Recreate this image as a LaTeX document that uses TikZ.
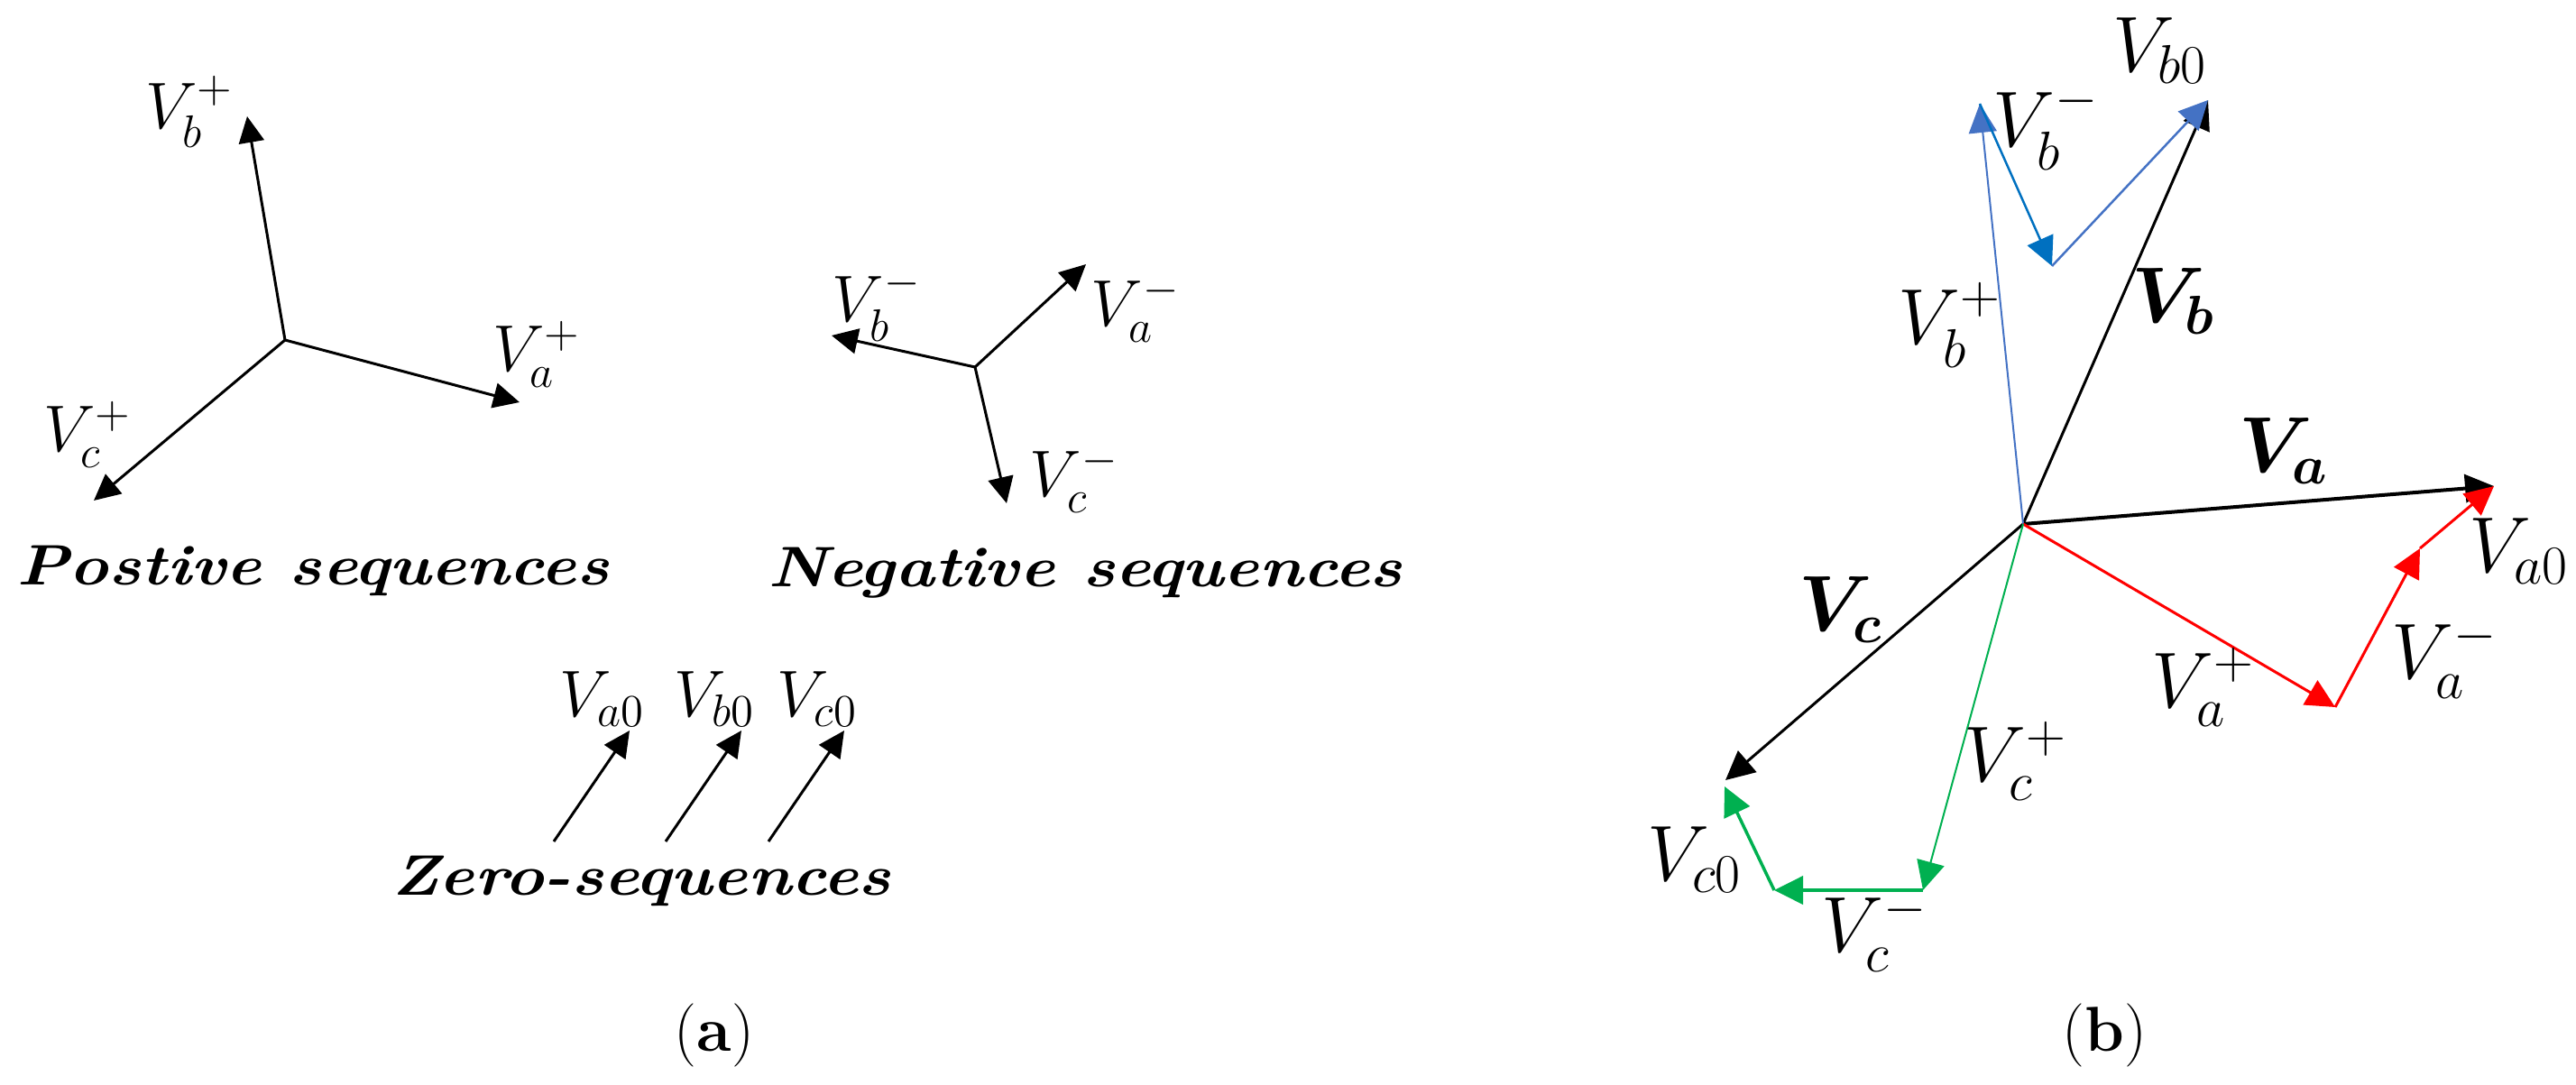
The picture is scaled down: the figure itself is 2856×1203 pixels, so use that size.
\documentclass[tikz,border=0pt]{standalone}
\usepackage{amsmath,bm,graphicx}
\usetikzlibrary{arrows.meta}
\definecolor{phaseblue}{HTML}{4472C4}
\definecolor{negblue}{HTML}{0070C0}
\definecolor{phasered}{HTML}{FF0000}
\definecolor{phasegreen}{HTML}{00B050}
\newcommand{\seqtitle}[1]{\scalebox{1.17}[1]{#1}}

\begin{document}
\begin{tikzpicture}[x=0.1mm,y=-0.1mm,
  vec/.style={line width=0.3mm,-{Triangle[length=2.9mm,width=2.8mm]}},
  rvec/.style={line width=#1,-{Triangle[length=3.2mm,width=3.1mm]}},
  lbl/.style={font=\fontsize{19.5}{22}\selectfont,inner sep=0pt},
  rlbl/.style={font=\fontsize{23.5}{26}\selectfont,inner sep=0pt},
  title/.style={font=\fontsize{18}{20}\selectfont\bfseries\itshape,inner sep=0pt,anchor=base},
  caption/.style={font=\fontsize{20}{24}\selectfont,inner sep=0pt}]
  \useasboundingbox (0,0) rectangle (2856,1203);

  % (a) positive sequences
  \coordinate (P)  at (316,377);
  \coordinate (Pa) at (576,446);
  \coordinate (Pb) at (274,129);
  \coordinate (Pc) at (104,555);
  \draw[vec] (P) -- (Pa);
  \draw[vec] (P) -- (Pb);
  \draw[vec] (P) -- (Pc);
  \node[lbl] (lPa) at (595,393) {$V_a^+$};
  \node[lbl] (lPb) at (210,124) {$V_b^+$};
  \node[lbl] (lPc) at (97,482)  {$V_c^+$};
  \node[title] (tPos) at (347,648) {\seqtitle{Postive sequences}};

  % (a) negative sequences
  \coordinate (N)  at (1081,407);
  \coordinate (Na) at (1204,293);
  \coordinate (Nb) at (922,372);
  \coordinate (Nc) at (1116,558);
  \draw[vec] (N) -- (Na);
  \draw[vec] (N) -- (Nb);
  \draw[vec] (N) -- (Nc);
  \node[lbl] (lNa) at (1259,343) {$V_a^-$};
  \node[lbl] (lNb) at (972,338)  {$V_b^-$};
  \node[lbl] (lNc) at (1191,532) {$V_c^-$};
  \node[title] (tNeg) at (1203,650) {\seqtitle{Negative sequences}};

  % (a) zero sequences
  \foreach \p/\x in {a/614,b/738,c/852} {
    \coordinate (Z\p) at (\x,933);
    \coordinate (Z\p0) at (\x+84,810);
    \draw[vec] (Z\p) -- (Z\p0);
    \node[lbl] (lZ\p) at (\x+54,775) {$V_{\p0}$};
  }
  \node[title] (tZero) at (711,992) {\seqtitle{Zero-sequences}};
  \node[caption] (capa) at (792,1148) {(\textbf{a})};

  % (b) phasor sum
  \coordinate (O)   at (2243,581);
  \coordinate (Va)  at (2765,539);
  \coordinate (Vb)  at (2448,111);
  \coordinate (Vc)  at (1913,865);
  \coordinate (Vap) at (2589,784);
  \coordinate (Vam) at (2683,608);
  \coordinate (Vbp) at (2195,115);
  \coordinate (Vbm) at (2275,295);
  \coordinate (Vcp) at (2132,987);
  \coordinate (Vcm) at (1967,987);
  \coordinate (Vcz) at (1912,872);

  \draw[rvec=0.4mm]  (O) -- (Va);
  \draw[rvec=0.3mm]  (O) -- (Vb);
  \draw[rvec=0.3mm]  (O) -- (Vc);

  \draw[rvec=0.2mm, phaseblue]  (O) -- (Vbp);
  \draw[rvec=0.25mm, negblue]   (Vbp) -- (Vbm);
  \draw[rvec=0.25mm, phaseblue] (Vbm) -- (Vb);

  \draw[rvec=0.3mm, phasered] (O) -- (Vap);
  \draw[rvec=0.3mm, phasered] (Vap) -- (Vam);
  \draw[rvec=0.3mm, phasered] (Vam) -- (Va);

  \draw[rvec=0.2mm, phasegreen]  (O) -- (Vcp);
  \draw[rvec=0.4mm, phasegreen]  (Vcp) -- (Vcm);
  \draw[rvec=0.35mm, phasegreen] (Vcm) -- (Vcz);

  \node[rlbl] (lVa)  at (2532,500) {$\bm{V_a}$};
  \node[rlbl] (lVb)  at (2410,334) {$\bm{V_b}$};
  \node[rlbl] (lVc)  at (2041,676) {$\bm{V_c}$};
  \node[rlbl] (lVb0) at (2395,56)  {$V_{b0}$};
  \node[rlbl] (lVbm) at (2268,140) {$V_b^-$};
  \node[rlbl] (lVbp) at (2162,360) {$V_b^+$};
  \node[rlbl] (lVa0) at (2793,611) {$V_{a0}$};
  \node[rlbl] (lVam) at (2710,730) {$V_a^-$};
  \node[rlbl] (lVap) at (2443,762) {$V_a^+$};
  \node[rlbl] (lVcp) at (2235,844) {$V_c^+$};
  \node[rlbl] (lVcm) at (2078,1033) {$V_c^-$};
  \node[rlbl] (lVc0) at (1879,953) {$V_{c0}$};
  \node[caption] (capb) at (2333,1148) {(\textbf{b})};

\end{tikzpicture}
\end{document}
